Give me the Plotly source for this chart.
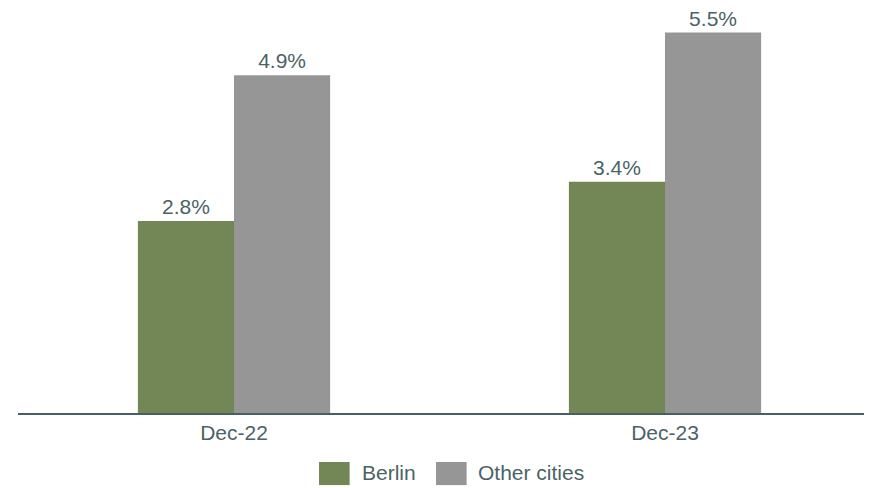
import plotly.graph_objects as go

categories = ['Dec-22', 'Dec-23']
berlin = [2.79, 3.36]
other_cities = [4.91, 5.53]

green = '#738656'
grey = '#969696'
textcolor = '#4b6366'
font = 'Liberation Sans, Arial, sans-serif'

fig = go.Figure()
fig.add_trace(go.Bar(x=categories, y=berlin, name='Berlin',
                     marker=dict(color=green, line=dict(width=0)),
                     texttemplate='%{y:.1f}%', textposition='outside',
                     textfont=dict(size=21, color=textcolor), cliponaxis=False))
fig.add_trace(go.Bar(x=categories, y=other_cities, name='Other cities',
                     marker=dict(color=grey, line=dict(width=0)),
                     texttemplate='%{y:.1f}%', textposition='outside',
                     textfont=dict(size=21, color=textcolor), cliponaxis=False))

# legend drawn by hand to get the wide swatches
legend = [('Berlin', green, 0.3525, 0.4005), ('Other cities', grey, 0.4895, 0.5363)]
for name, col, x0, tx in legend:
    fig.add_shape(type='rect', xref='paper', yref='paper', x0=x0, x1=x0 + 0.0358,
                  y0=-0.121, y1=-0.178, fillcolor=col, line_width=0)
    fig.add_annotation(xref='paper', yref='paper', x=tx, y=-0.148, text=name,
                       showarrow=False, xanchor='left', yanchor='middle',
                       font=dict(size=21, color=textcolor))

fig.update_layout(
    width=864, height=488,
    margin=dict(l=10, r=0, t=0, b=83, pad=0),
    barmode='group', bargap=0.554, bargroupgap=0,
    showlegend=False,
    paper_bgcolor='white', plot_bgcolor='white',
    font=dict(family=font, size=21, color=textcolor),
    xaxis=dict(range=[-0.5012, 1.4803], showline=True, linecolor='#4a5f63', linewidth=2,
               ticks='', showgrid=False, tickfont=dict(size=21, color=textcolor)),
    yaxis=dict(range=[0, 5.887], visible=False, showgrid=False, zeroline=False),
)

fig.write_html("out.html")
